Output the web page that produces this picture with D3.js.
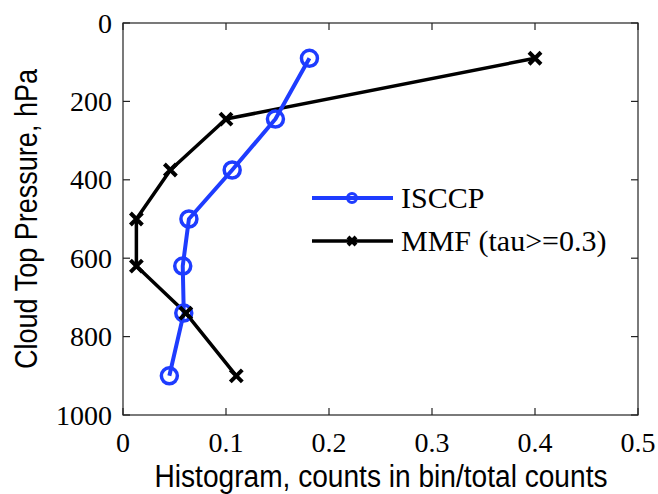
<!DOCTYPE html>
<html>
<head>
<meta charset="utf-8">
<script src="https://cdn.jsdelivr.net/npm/d3@7"></script>
<style>
  body { margin: 0; background: #fff; }
  svg { display: block; }
</style>
</head>
<body>
<div id="chart"></div>
<script>
// pressure levels (hPa) and histogram values
var pressure = [90, 245, 375, 500, 620, 740, 900];
var isccp = [0.181, 0.148, 0.106, 0.064, 0.058, 0.059, 0.045];
var mmf = [0.400, 0.100, 0.046, 0.013, 0.013, 0.061, 0.110];
var xTicks = [0, 0.1, 0.2, 0.3, 0.4, 0.5];
var yTicks = [0, 200, 400, 600, 800, 1000];
var seriesNames = ["ISCCP", "MMF (tau>=0.3)"];

var width = 658, height = 494;
var margin = {top: 23, right: 20, bottom: 79, left: 123};
var w = width - margin.left - margin.right,
    h = height - margin.top - margin.bottom;

var svg = d3.select('#chart')
  .append('svg')
  .attr('width', width)
  .attr('height', height);

var g = svg.append('g')
  .attr('transform', 'translate(' + margin.left + ',' + margin.top + ')');

var x = d3.scaleLinear().domain([0, 0.5]).range([0, w]);
var y = d3.scaleLinear().domain([0, 1000]).range([0, h]);

var serif = "'Liberation Serif', 'Times New Roman', serif";
var sans = "'Liberation Sans', Arial, sans-serif";

// box
g.append('rect')
  .attr('width', w).attr('height', h)
  .attr('fill', 'none').attr('stroke', '#222').attr('stroke-width', 1.2);

// inward ticks on all four sides
var tickLen = 7;
xTicks.forEach(function(t) {
  g.append('line').attr('x1', x(t)).attr('x2', x(t)).attr('y1', h).attr('y2', h - tickLen)
    .attr('stroke', '#222').attr('stroke-width', 1.2);
  g.append('line').attr('x1', x(t)).attr('x2', x(t)).attr('y1', 0).attr('y2', tickLen)
    .attr('stroke', '#222').attr('stroke-width', 1.2);
});
yTicks.forEach(function(t) {
  g.append('line').attr('x1', 0).attr('x2', tickLen).attr('y1', y(t)).attr('y2', y(t))
    .attr('stroke', '#222').attr('stroke-width', 1.2);
  g.append('line').attr('x1', w).attr('x2', w - tickLen).attr('y1', y(t)).attr('y2', y(t))
    .attr('stroke', '#222').attr('stroke-width', 1.2);
});

// tick labels
g.selectAll('.xlab')
  .data(xTicks)
  .enter()
  .append('text')
  .attr('x', function(d) { return x(d); })
  .attr('y', h + 37)
  .attr('text-anchor', 'middle')
  .style('font-family', serif)
  .style('font-size', '28px')
  .text(function(d) { return d; });

g.selectAll('.ylab')
  .data(yTicks)
  .enter()
  .append('text')
  .attr('x', -11)
  .attr('y', function(d) { return y(d); })
  .attr('dy', '0.34em')
  .attr('text-anchor', 'end')
  .style('font-family', serif)
  .style('font-size', '28px')
  .text(function(d) { return d; });

// axis titles (tall, narrow sans like the original)
svg.append('text')
  .attr('x', margin.left + w / 2 - 226)
  .attr('y', 487)
  .attr('textLength', 453)
  .attr('lengthAdjust', 'spacingAndGlyphs')
  .style('font-family', sans)
  .style('font-size', '31px')
  .text('Histogram, counts in bin/total counts');

svg.append('text')
  .attr('transform', 'translate(37,' + (margin.top + h / 2) + ') rotate(-90)')
  .attr('x', -150)
  .attr('textLength', 300)
  .attr('lengthAdjust', 'spacingAndGlyphs')
  .style('font-family', sans)
  .style('font-size', '31px')
  .text('Cloud Top Pressure, hPa');

var blue = '#1e3cff';

var line = d3.line()
  .x(function(d) { return x(d[0]); })
  .y(function(d) { return y(d[1]); });

var isccpPts = d3.zip(isccp, pressure);
var mmfPts = d3.zip(mmf, pressure);

// MMF line (drawn first)
g.append('path')
  .attr('d', line(mmfPts))
  .attr('fill', 'none').attr('stroke', '#000').attr('stroke-width', 3.5)
  .attr('stroke-linejoin', 'round');

// ISCCP line
g.append('path')
  .attr('d', line(isccpPts))
  .attr('fill', 'none').attr('stroke', blue).attr('stroke-width', 4)
  .attr('stroke-linejoin', 'round');

g.selectAll('.circ')
  .data(isccpPts)
  .enter()
  .append('circle')
  .attr('cx', function(d) { return x(d[0]); })
  .attr('cy', function(d) { return y(d[1]); })
  .attr('r', 8)
  .attr('fill', 'none').attr('stroke', blue).attr('stroke-width', 3.5);

function cross(s) {
  return 'M' + (-s) + ',' + (-s) + 'L' + s + ',' + s + 'M' + (-s) + ',' + s + 'L' + s + ',' + (-s);
}

g.selectAll('.cross')
  .data(mmfPts)
  .enter()
  .append('path')
  .attr('transform', function(d) { return 'translate(' + x(d[0]) + ',' + y(d[1]) + ')'; })
  .attr('d', cross(6))
  .attr('stroke', '#000').attr('stroke-width', 4).attr('fill', 'none');

// legend
var leg = svg.append('g');
var legY = [198, 241];
var legColors = [blue, '#000'];
seriesNames.forEach(function(name, i) {
  leg.append('line')
    .attr('x1', 312).attr('x2', 393).attr('y1', legY[i]).attr('y2', legY[i])
    .attr('stroke', legColors[i]).attr('stroke-width', i === 0 ? 4 : 3.5);
  if (i === 0) {
    leg.append('circle').attr('cx', 352).attr('cy', legY[i]).attr('r', 4.5)
      .attr('fill', 'none').attr('stroke', blue).attr('stroke-width', 3);
  } else {
    leg.append('path').attr('transform', 'translate(352,' + legY[i] + ')')
      .attr('d', cross(4)).attr('stroke', '#000').attr('stroke-width', 4);
  }
  leg.append('text')
    .attr('x', 401).attr('y', legY[i] + 10)
    .style('font-family', serif)
    .style('font-size', '30px')
    .text(name);
});
</script>
</body>
</html>
